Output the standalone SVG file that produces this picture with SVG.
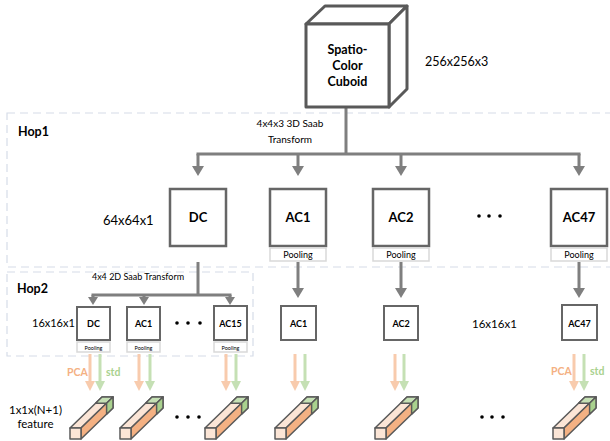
<svg xmlns="http://www.w3.org/2000/svg" xmlns:xlink="http://www.w3.org/1999/xlink" width="610" height="441" viewBox="0 0 610 441">
<style>
text{font-family:Lato,"Liberation Sans",sans-serif;fill:#000}
.b{font-weight:bold}
.box{fill:#fff;stroke:#666;stroke-width:2.5}
.sbox{fill:#fff;stroke:#666;stroke-width:2}
.pool{fill:#fff;stroke:#d9d9d9;stroke-width:1.5}
.hop{fill:none;stroke:#d6dce8;stroke-width:1.2;stroke-dasharray:8 5}
.g{fill:none;stroke:#7f7f7f;stroke-width:3}
.o{fill:none;stroke:#f8cbad;stroke-width:3}
.gr{fill:none;stroke:#c5e0b4;stroke-width:3}
.dot{fill:#000}
</style>
<defs>
<marker id="ag" markerUnits="userSpaceOnUse" viewBox="0 0 10 12" markerWidth="10" markerHeight="12" refX="0" refY="6" orient="auto"><path d="M0,0 L10,6 L0,12 z" fill="#7f7f7f"/></marker>
<marker id="ag2" markerUnits="userSpaceOnUse" viewBox="0 0 8 10" markerWidth="8" markerHeight="10" refX="0" refY="5" orient="auto"><path d="M0,0 L8,5 L0,10 z" fill="#7f7f7f"/></marker>
<marker id="ao" markerUnits="userSpaceOnUse" viewBox="0 0 10 10" markerWidth="10" markerHeight="10" refX="0" refY="5" orient="auto"><path d="M0,0 L10,5 L0,10 z" fill="#f8cbad"/></marker>
<marker id="agr" markerUnits="userSpaceOnUse" viewBox="0 0 10 10" markerWidth="10" markerHeight="10" refX="0" refY="5" orient="auto"><path d="M0,0 L10,5 L0,10 z" fill="#c5e0b4"/></marker>
<g id="bar" stroke="#595959" stroke-width="1.5" stroke-linejoin="round">
<polygon points="0,0 11,0 43,-31 32,-31" fill="#fbe5d6"/>
<polygon points="11,0 11,11 43,-20 43,-31" fill="#f4b183"/>
<polygon points="25.6,-24.8 36.6,-24.8 43,-31 32,-31" fill="#c5e0b4"/>
<polygon points="36.6,-24.8 36.6,-13.8 43,-20 43,-31" fill="#a9d18e"/>
<rect x="0" y="0" width="11" height="11" fill="#fbe5d6"/>
</g>
</defs>

<!-- hop regions -->
<rect class="hop" x="7" y="113" width="610" height="154"/>
<rect class="hop" x="7" y="272" width="246" height="84"/>
<text class="b" x="18" y="136" font-size="12.5">Hop1</text>
<text class="b" x="17" y="293" font-size="12.5">Hop2</text>

<!-- connectors -->
<g id="connectors">
<path class="g" d="M346,107 V154"/>
<path class="g" d="M198,154 H579" stroke-linecap="square"/>
<path class="g" d="M198,154 V166" marker-end="url(#ag)"/>
<path class="g" d="M298,154 V166" marker-end="url(#ag)"/>
<path class="g" d="M401,154 V166" marker-end="url(#ag)"/>
<path class="g" d="M579,154 V166" marker-end="url(#ag)"/>
<path class="g" d="M198,262 V295"/>
<path class="g" d="M93,295 H230" stroke-linecap="square"/>
<path class="g" d="M93,295 V297" marker-end="url(#ag2)"/>
<path class="g" d="M144,295 V297" marker-end="url(#ag2)"/>
<path class="g" d="M230,295 V297" marker-end="url(#ag2)"/>
<path class="g" d="M298,262 V288" marker-end="url(#ag)"/>
<path class="g" d="M401,262 V288" marker-end="url(#ag)"/>
<path class="g" d="M579,262 V288" marker-end="url(#ag)"/>
<path class="o" d="M90,354 V381" marker-end="url(#ao)"/>
<path class="gr" d="M100,354 V381" marker-end="url(#agr)"/>
<path class="o" d="M139,354 V381" marker-end="url(#ao)"/>
<path class="gr" d="M150,354 V381" marker-end="url(#agr)"/>
<path class="o" d="M226,354 V381" marker-end="url(#ao)"/>
<path class="gr" d="M236,354 V381" marker-end="url(#agr)"/>
<path class="o" d="M295,354 V381" marker-end="url(#ao)"/>
<path class="gr" d="M305,354 V381" marker-end="url(#agr)"/>
<path class="o" d="M395,354 V381" marker-end="url(#ao)"/>
<path class="gr" d="M404,354 V381" marker-end="url(#agr)"/>
<path class="o" d="M574,354 V381" marker-end="url(#ao)"/>
<path class="gr" d="M584,354 V381" marker-end="url(#agr)"/>
</g>

<!-- cuboid -->
<g id="cuboid" stroke="#595959" stroke-width="3" stroke-linejoin="round" fill="#fff">
<polygon points="306,24 325,6 407,6 389,24"/>
<polygon points="389,24 407,6 407,89 389,107"/>
<rect x="306" y="24" width="83" height="83"/>
<text class="b" x="347.5" y="54" font-size="12.5" text-anchor="middle" stroke="none">Spatio-</text>
<text class="b" x="347.5" y="70" font-size="12.5" text-anchor="middle" stroke="none">Color</text>
<text class="b" x="347.5" y="86" font-size="12.5" text-anchor="middle" stroke="none">Cuboid</text>
</g>
<text x="425" y="66" font-size="12.5">256x256x3</text>
<text x="290" y="127" font-size="10" text-anchor="middle">4x4x3 3D Saab</text>
<text x="290" y="143" font-size="10" text-anchor="middle">Transform</text>

<!-- hop1 nodes -->
<text x="103" y="225" font-size="13">64x64x1</text>
<g id="h1-dc"><rect class="box" x="170" y="189" width="56" height="57"/><text class="b" x="198" y="222" font-size="13" text-anchor="middle">DC</text></g>
<g id="h1-ac1"><rect class="box" x="270" y="189" width="56" height="57"/><text class="b" x="298" y="222" font-size="13" text-anchor="middle">AC1</text>
<rect class="pool" x="270" y="248" width="56" height="13"/><text x="298" y="258" font-size="9" text-anchor="middle" fill="#404040">Pooling</text></g>
<g id="h1-ac2"><rect class="box" x="373" y="189" width="56" height="57"/><text class="b" x="401" y="222" font-size="13" text-anchor="middle">AC2</text>
<rect class="pool" x="373" y="248" width="56" height="13"/><text x="401" y="258" font-size="9" text-anchor="middle" fill="#404040">Pooling</text></g>
<g id="h1-ac47"><rect class="box" x="551" y="189" width="56" height="57"/><text class="b" x="579" y="222" font-size="13" text-anchor="middle">AC47</text>
<rect class="pool" x="551" y="248" width="56" height="13"/><text x="579" y="258" font-size="9" text-anchor="middle" fill="#404040">Pooling</text></g>
<circle class="dot" cx="479" cy="216" r="1.8"/><circle class="dot" cx="489" cy="216" r="1.8"/><circle class="dot" cx="500" cy="216" r="1.8"/>

<!-- hop2 nodes -->
<text x="138" y="280" font-size="9" text-anchor="middle">4x4 2D Saab Transform</text>
<text x="32" y="327" font-size="11">16x16x1</text>
<g id="h2-dc"><rect class="sbox" x="77" y="307" width="33" height="33"/><text class="b" x="93.5" y="327" font-size="9" text-anchor="middle">DC</text>
<rect class="pool" x="77" y="342" width="33" height="10"/><text x="93.5" y="349.5" font-size="5.5" text-anchor="middle" fill="#404040">Pooling</text></g>
<g id="h2-ac1"><rect class="sbox" x="127" y="307" width="33" height="33"/><text class="b" x="143.5" y="327" font-size="9" text-anchor="middle">AC1</text>
<rect class="pool" x="127" y="342" width="33" height="10"/><text x="143.5" y="349.5" font-size="5.5" text-anchor="middle" fill="#404040">Pooling</text></g>
<g id="h2-ac15"><rect class="sbox" x="214" y="306" width="33" height="34"/><text class="b" x="230.5" y="327" font-size="9" text-anchor="middle">AC15</text>
<rect class="pool" x="214" y="342" width="33" height="10"/><text x="230.5" y="349.5" font-size="5.5" text-anchor="middle" fill="#404040">Pooling</text></g>
<circle class="dot" cx="177" cy="323" r="1.8"/><circle class="dot" cx="188" cy="323" r="1.8"/><circle class="dot" cx="200" cy="323" r="1.8"/>
<g id="h2r-ac1"><rect class="sbox" x="281" y="306" width="35" height="34"/><text class="b" x="298.5" y="326.5" font-size="9" text-anchor="middle">AC1</text></g>
<g id="h2r-ac2"><rect class="sbox" x="384" y="306" width="34" height="34"/><text class="b" x="401" y="326.5" font-size="9" text-anchor="middle">AC2</text></g>
<g id="h2r-ac47"><rect class="sbox" x="562" y="305" width="35" height="35"/><text class="b" x="579.5" y="326.5" font-size="9" text-anchor="middle">AC47</text></g>
<text x="472" y="328" font-size="11.5">16x16x1</text>

<!-- PCA / std labels -->
<text class="b" x="67" y="376" font-size="10.5" style="fill:#f4b183">PCA</text>
<text class="b" x="106" y="376" font-size="10.5" style="fill:#a9d18e">std</text>
<text class="b" x="551" y="375" font-size="10.5" style="fill:#f4b183">PCA</text>
<text class="b" x="590" y="375" font-size="10.5" style="fill:#a9d18e">std</text>

<!-- features -->
<text x="35.5" y="414" font-size="11.5" text-anchor="middle">1x1x(N+1)</text>
<text x="35.5" y="428" font-size="11.5" text-anchor="middle">feature</text>
<g id="features">
<use xlink:href="#bar" href="#bar" transform="translate(70,428)"/>
<use xlink:href="#bar" href="#bar" transform="translate(120,428)"/>
<use xlink:href="#bar" href="#bar" transform="translate(205,428)"/>
<use xlink:href="#bar" href="#bar" transform="translate(275,428)"/>
<use xlink:href="#bar" href="#bar" transform="translate(375,428)"/>
<use xlink:href="#bar" href="#bar" transform="translate(553,428)"/>
</g>
<circle class="dot" cx="177" cy="417" r="1.8"/><circle class="dot" cx="188" cy="417" r="1.8"/><circle class="dot" cx="199" cy="417" r="1.8"/>
<circle class="dot" cx="482" cy="417" r="1.8"/><circle class="dot" cx="492" cy="417" r="1.8"/><circle class="dot" cx="503" cy="417" r="1.8"/>
</svg>
